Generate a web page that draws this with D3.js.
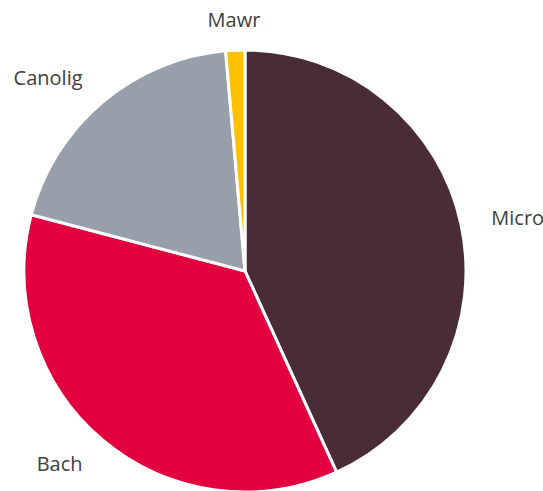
<!DOCTYPE html>
<html lang="en">
<head>
  <meta charset="UTF-8">
  <title>Pie</title>
  <style>
    body { margin: 0; background: #fff; }
  </style>
</head>
<body>
  <div class="workspace"></div>
  <script src="https://cdn.jsdelivr.net/npm/d3@7/dist/d3.min.js"></script>
  <script>
    const categories = ['Micro', 'Bach', 'Canolig', 'Mawr']
    const values = [43.2, 35.9, 19.5, 1.4]
    const colors = ['#4a2c39', '#e2003f', '#97a0aa', '#ffc000']

    const width = 543
    const height = 491
    const cx = 245
    const cy = 271
    const radius = 221
    const labelRadius = radius + 31

    const svg = d3.select('.workspace').append('svg')
      .attr('width', width)
      .attr('height', height)

    const g = svg.append('g')
      .attr('transform', 'translate(' + [cx, cy] + ')')

    const data = categories.map((c, i) => ({ name: c, value: values[i], color: colors[i] }))

    const pie = d3.pie().sort(null).value(d => d.value)
    const arc = d3.arc().innerRadius(0).outerRadius(radius)
    const arcs = pie(data)

    g.selectAll('path')
      .data(arcs)
      .enter().append('path')
      .attr('d', arc)
      .attr('fill', d => d.data.color)
      .attr('stroke', '#fff')
      .attr('stroke-width', 3)
      .attr('stroke-linejoin', 'round')

    const mid = d => (d.startAngle + d.endAngle) / 2

    g.selectAll('text')
      .data(arcs)
      .enter().append('text')
      .attr('x', d => Math.sin(mid(d)) * labelRadius)
      .attr('y', d => Math.max(-cy + 20, -Math.cos(mid(d)) * labelRadius))
      .attr('dy', '0.35em')
      .style('font-family', "'Open Sans', sans-serif")
      .style('font-size', '20px')
      .style('fill', '#404040')
      .style('text-anchor', d => {
        const s = Math.sin(mid(d))
        if (Math.abs(s) < 0.3) return 'middle'
        return s > 0 ? 'start' : 'end'
      })
      .text(d => d.data.name)
  </script>
</body>
</html>
